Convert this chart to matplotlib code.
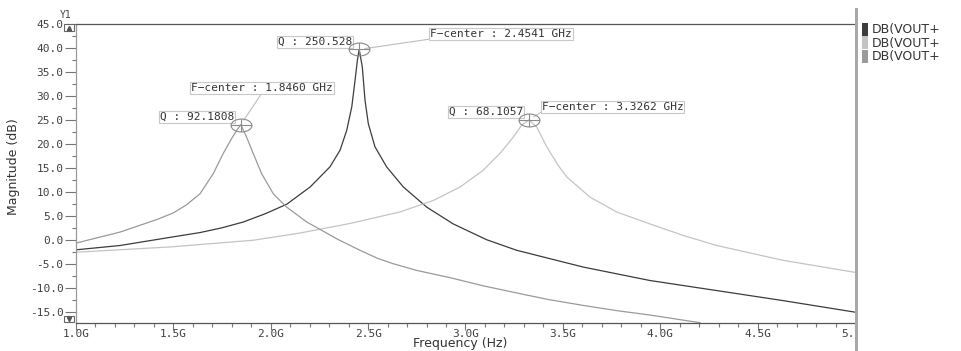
import matplotlib
matplotlib.use("Agg")
import matplotlib.pyplot as plt
from matplotlib.path import Path
from matplotlib.patches import Rectangle
import numpy as np

# curve: resonance at 2.4541 GHz (dark)
f_dark = [1.0, 1.226, 1.483, 1.637, 1.75, 1.859, 1.97, 2.082, 2.202, 2.304,
          2.356, 2.390, 2.416, 2.433, 2.445, 2.4541, 2.470, 2.484, 2.501, 2.535,
          2.595, 2.681, 2.801, 2.937, 3.109, 3.263, 3.605, 3.947, 4.290, 4.632,
          5.0]
db_dark = [-2.1, -1.2, 0.5, 1.5, 2.5, 3.7, 5.4, 7.4, 11.0, 15.2,
           18.7, 22.8, 27.7, 33.3, 37.5, 39.7, 36.1, 29.1, 24.2, 19.4,
           15.2, 11.0, 6.8, 3.3, 0.0, -2.2, -5.7, -8.5, -10.6, -12.7,
           -15.1]

# resonance at 3.3262 GHz (light)
f_light = [1.0, 1.483, 1.910, 2.150, 2.407, 2.664, 2.835, 2.972, 3.091, 3.177,
           3.245, 3.289, 3.3262, 3.366, 3.417, 3.476, 3.520, 3.639, 3.776, 3.947,
           4.118, 4.290, 4.632, 5.0]
db_light = [-2.6, -1.5, -0.1, 1.4, 3.4, 5.8, 8.2, 11.0, 14.5, 18.0,
            21.4, 23.9, 25.0, 23.5, 19.4, 15.5, 13.1, 8.9, 5.8, 3.3,
            0.9, -1.2, -4.3, -6.8]

# resonance at 1.8460 GHz (mid grey)
f_mid = [1.0, 1.226, 1.414, 1.5, 1.568, 1.637, 1.705, 1.756, 1.799, 1.825,
         1.846, 1.876, 1.910, 1.953, 2.013, 2.082, 2.185, 2.339, 2.458, 2.55,
         2.629, 2.75, 2.92, 3.09, 3.263, 3.43, 3.605, 3.78, 3.947, 4.204]
db_mid = [-0.7, 1.6, 4.2, 5.6, 7.3, 9.6, 13.8, 18.0, 21.1, 22.8,
          24.0, 21.4, 18.0, 13.8, 9.6, 6.8, 3.7, 0.2, -2.2, -3.9,
          -5.0, -6.4, -7.9, -9.6, -11.1, -12.5, -13.7, -14.8, -15.7, -17.3]

peak_f = [2.4541, 3.3262, 1.8460]
peak_db = [39.7, 25.0, 24.0]
q_text = ["Q : 250.528", "Q : 68.1057", "Q : 92.1808"]
fc_text = ["F\u2212center : 2.4541 GHz", "F\u2212center : 3.3262 GHz",
           "F\u2212center : 1.8460 GHz"]

legend_names = ["DB(VOUT+", "DB(VOUT+", "DB(VOUT+"]
colors = ["#3c3c3c", "#c4c4c4", "#9a9a9a"]

x_ticks = [1.0, 1.5, 2.0, 2.5, 3.0, 3.5, 4.0, 4.5, 5.0]
x_labels = ["1.0G", "1.5G", "2.0G", "2.5G", "3.0G", "3.5G", "4.0G", "4.5G", "5.0G"]
y_ticks = [45, 40, 35, 30, 25, 20, 15, 10, 5, 0, -5, -10, -15]

plt.rcParams["font.family"] = "DejaVu Sans"
mono = "DejaVu Sans Mono"

fig = plt.figure(figsize=(9.62, 3.51), dpi=100)
ax = fig.add_axes([76/962, 1-322.7/351, 779/962, (322.7-24)/351])

curves = [(f_dark, db_dark), (f_light, db_light), (f_mid, db_mid)]
for (fx, dy), c, nm in zip(curves, colors, legend_names):
    ax.plot(fx, dy, color=c, lw=0.9, label=nm)

ax.set_xlim(1.0, 5.0)
ax.set_ylim(-17.3, 45.0)

# elliptical marker with a cross, like the cursor markers
circ = Path.unit_circle()
verts = list(circ.vertices * [1.0, 0.62]) + [(-1, 0), (1, 0), (0, -0.62), (0, 0.62)]
codes = list(circ.codes) + [Path.MOVETO, Path.LINETO, Path.MOVETO, Path.LINETO]
mark = Path(verts, codes)
ax.plot(peak_f, peak_db, ls="none", marker=mark, markersize=15,
        mfc="none", mec="#8a8a8a", mew=0.8, zorder=5)

box = dict(boxstyle="square,pad=0.08", fc="white", ec="#c8c8c8", lw=0.8)
tfont = dict(fontsize=8, color="#333333", family=mono)

# Q labels (right aligned, left of the peaks)
q_pos = [(2.42, 41.3), (3.295, 26.6), (1.811, 25.6)]
for (x, y), t in zip(q_pos, q_text):
    ax.text(x, y, t, ha="right", va="center", bbox=box, **tfont)

# F-center labels joined to the peaks
fc_pos = [(2.818, 42.9), (3.392, 27.75), (1.59, 31.6)]
fc_anchor = [(0, 0), (0, 0), (0.5, 0)]
for (x, y), t, px, py, rp in zip(fc_pos, fc_text, peak_f, peak_db, fc_anchor):
    ax.annotate(t, xy=(px, py), xytext=(x, y), ha="left", va="center",
                bbox=box, **tfont,
                arrowprops=dict(arrowstyle="-", color="#bdbdbd", lw=0.8,
                                relpos=rp, shrinkA=0, shrinkB=4))

ax.set_xticks(x_ticks)
ax.set_xticklabels(x_labels, family=mono)
ax.set_xticks(np.arange(1.0, 5.0, 0.1), minor=True)
ax.set_yticks(y_ticks)
ax.set_yticklabels(["%.1f" % v for v in y_ticks], family=mono)
ax.set_yticks(np.arange(-15, 45, 2.5), minor=True)
ax.tick_params(axis="both", which="major", labelsize=8, labelcolor="#404040",
               color="#777777", width=0.8)
ax.tick_params(axis="y", which="major", length=8, pad=1)
ax.tick_params(axis="x", which="major", length=5, pad=-0.5)
ax.tick_params(axis="both", which="minor", length=3, color="#777777", width=0.8)

ax.spines["left"].set_color("#999999")
ax.spines["bottom"].set_color("#555555")
ax.spines["top"].set_color("#555555")
ax.spines["right"].set_visible(False)
for s in ["left", "bottom", "top"]:
    ax.spines[s].set_linewidth(0.9)

fig.text(14/962, 1-167/351, "Magnitude (dB)", fontsize=9, color="#333333",
         rotation=90, ha="center", va="center")
fig.text(460/962, 1-347.5/351, "Frequency (Hz)", fontsize=9, color="#333333",
         ha="center", va="baseline")

fig.text(66/962, 1-15/351, "Y1", fontsize=7, color="#444444", family=mono,
         ha="center", va="center")

# scroll buttons on the y axis
for yc, mk in [(27.5, "^"), (318.5, "v")]:
    fig.patches.append(Rectangle((64/962, 1-(yc+3)/351), 10/962, 6/351,
                                 transform=fig.transFigure, fc="white",
                                 ec="#666666", lw=0.8, zorder=6))
    fig.lines.append(plt.Line2D([69/962], [1-yc/351], marker=mk, ms=3,
                                color="#555555", transform=fig.transFigure,
                                zorder=7))

# panel divider on the right, hides the end of the last tick label
fig.patches.append(Rectangle((858/962, 0), 104/962, 1, transform=fig.transFigure,
                             fc="white", ec="none", zorder=8))
fig.patches.append(Rectangle((855/962, 0), 3/962, 1-8/351, transform=fig.transFigure,
                             fc="#a8a8a8", ec="none", zorder=9))

# legend swatches
for i, (c, nm) in enumerate(zip(colors, legend_names)):
    y0 = 23 + i * 13.5
    fig.patches.append(Rectangle((862/962, 1-(y0+12.5)/351), 6/962, 12.5/351,
                                 transform=fig.transFigure, fc=c, ec="none",
                                 zorder=10))
    fig.text(872/962, 1-(y0+6.5)/351, nm, fontsize=9, color="#333333",
             ha="left", va="center", zorder=10)

fig.savefig("out.png", dpi=100, facecolor="white")
